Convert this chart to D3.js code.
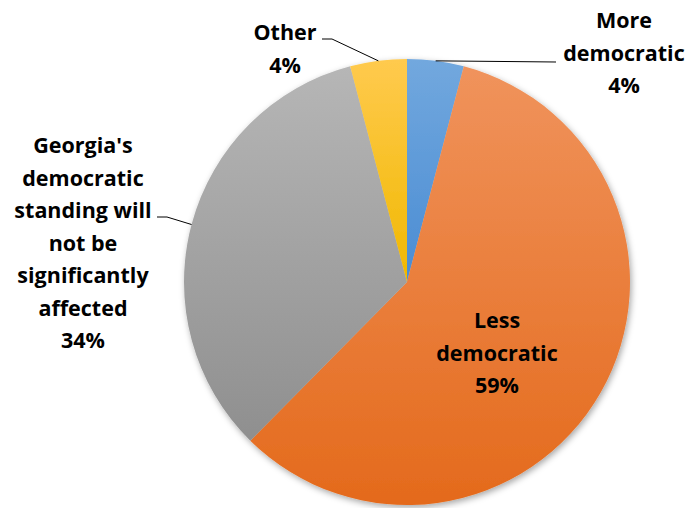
<!DOCTYPE html>
<html>
<head>
<meta charset="utf-8">
<script src="https://cdn.jsdelivr.net/npm/d3@7"></script>
<style>
  body { margin: 0; background: #fff; }
  svg { display: block; }
  .lbl { font-family: "Open Sans", Lato, sans-serif; font-weight: bold; font-size: 21.5px; fill: #000; }
</style>
</head>
<body>
<script>
// chart size
const w = 686;
const h = 508;

// data, clockwise from 12 o'clock
const categories = ["More democratic", "Less democratic", "Georgia's democratic standing will not be significantly affected", "Other"];
const values = [4.1, 58.3, 33.5, 4.1];
const percentLabels = ["4%", "59%", "34%", "4%"];
const labelLines = [
  ["More", "democratic"],
  ["Less", "democratic"],
  ["Georgia's", "democratic", "standing will", "not be", "significantly", "affected"],
  ["Other"]
];

// colours (top / bottom of each slice gradient)
const colorsTop = ["#72a8de", "#f0935c", "#b6b6b6", "#ffca4e"];
const colorsBottom = ["#4a8cd3", "#e46a1c", "#8f8f8f", "#f0b800"];

// pie geometry
const cx = 407;
const cy = 282;
const radius = 223;
const lineH = 32.5;

// label placement: text block centre x, first line y, leader elbow/end
const labelLayout = [
  { x: 624, y: 28, inside: false, leader: [[556, 62]] },
  { x: 497, y: 328, inside: true },
  { x: 83, y: 153, inside: false, leader: [[167, 217], [157, 217]] },
  { x: 285, y: 40, inside: false, leader: [[332, 39], [322, 39]] }
];

document.addEventListener("DOMContentLoaded", function () {
  const svg = d3.select("body").append("svg").attr("width", w).attr("height", h);
  const defs = svg.append("defs");

  categories.forEach((c, i) => {
    const g = defs.append("linearGradient")
      .attr("id", "grad" + i)
      .attr("x1", 0).attr("y1", 0).attr("x2", 0).attr("y2", 1);
    g.append("stop").attr("offset", "0%").attr("stop-color", colorsTop[i]);
    g.append("stop").attr("offset", "100%").attr("stop-color", colorsBottom[i]);
  });

  defs.append("filter")
    .attr("id", "shadow")
    .attr("x", "-10%").attr("y", "-10%").attr("width", "120%").attr("height", "120%")
    .append("feDropShadow")
    .attr("dx", 1.5).attr("dy", 2.5).attr("stdDeviation", 3)
    .attr("flood-color", "#000").attr("flood-opacity", 0.35);

  const pie = d3.pie().sort(null).value((d) => d);
  const arcs = pie(values);
  const arc = d3.arc().innerRadius(0).outerRadius(radius);

  const g = svg.append("g").attr("transform", `translate(${cx},${cy})`);
  const slices = g.append("g").attr("filter", "url(#shadow)");
  slices.selectAll("path")
    .data(arcs)
    .enter()
    .append("path")
    .attr("d", arc)
    .attr("fill", (d, i) => `url(#grad${i})`);

  // leader lines from the arc midpoint
  arcs.forEach((a, i) => {
    const lay = labelLayout[i];
    if (lay.inside) return;
    const mid = (a.startAngle + a.endAngle) / 2;
    const p0 = [cx + radius * Math.sin(mid), cy - radius * Math.cos(mid)];
    svg.append("path")
      .attr("d", d3.line()([p0, ...lay.leader]))
      .attr("fill", "none")
      .attr("stroke", "#000")
      .attr("stroke-width", 1);
  });

  // labels
  labelLayout.forEach((lay, i) => {
    const lines = labelLines[i].concat([percentLabels[i]]);
    const t = svg.append("text")
      .attr("class", "lbl")
      .attr("text-anchor", "middle");
    lines.forEach((ln, k) => {
      t.append("tspan")
        .attr("x", lay.x)
        .attr("y", lay.y + k * lineH)
        .text(ln);
    });
  });
});
</script>
</body>
</html>
